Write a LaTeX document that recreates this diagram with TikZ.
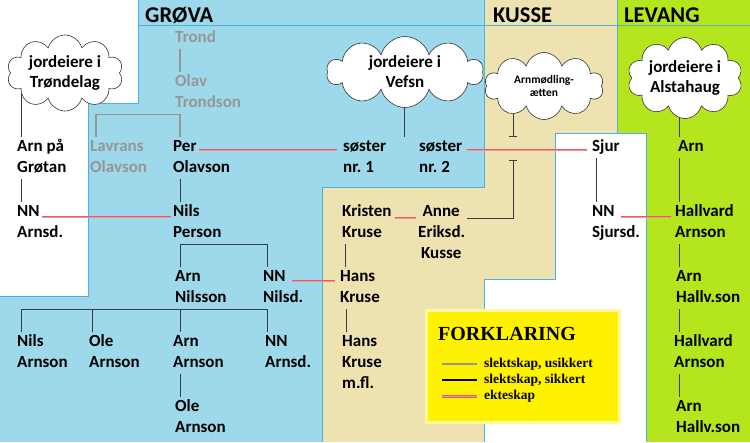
\documentclass[tikz,border=0pt]{standalone}
\usepackage{fontspec}
\setmainfont{Carlito}
\newfontfamily\legfont{Liberation Serif}
\usetikzlibrary{shapes.symbols,arrows.meta}
\definecolor{grovablue}{RGB}{157,217,234}
\definecolor{kussetan}{RGB}{238,226,177}
\definecolor{levanggreen}{RGB}{181,230,29}
\definecolor{edgeblue}{RGB}{72,178,224}
\definecolor{kinline}{RGB}{60,60,60}
\definecolor{unsureline}{RGB}{150,150,150}
\definecolor{marryred}{RGB}{228,92,100}
\definecolor{marrypink}{RGB}{238,150,155}
\definecolor{legyellow}{RGB}{255,242,0}
\definecolor{legedge}{RGB}{255,249,160}

\begin{document}
\begin{tikzpicture}[x=1pt,y=-1pt,
	person/.style={anchor=north west,yshift=-2pt,inner sep=0pt,text width=80pt,align=flush left,font=\bfseries\fontsize{17}{21}\selectfont\frenchspacing,execute at begin node=\strut,execute at end node=\strut},
	grayperson/.style={person,text=unsureline},
	header/.style={anchor=base west,inner sep=0pt,font=\bfseries\fontsize{22.5}{26}\selectfont},
	cloudbox/.style={cloud,cloud puffs=10,cloud ignores aspect,draw=black!80,fill=white,line width=0.6pt,align=center,inner sep=0pt,font=\bfseries\fontsize{17}{20}\selectfont},
	legtext/.style={anchor=base west,inner sep=0pt,font=\legfont\bfseries\fontsize{13.5}{16}\selectfont},
	kin/.style={draw=kinline,line width=0.9pt},
	unsure/.style={draw=unsureline,line width=1.2pt},
	married/.style={draw=marryred,double=marrypink,double distance=1pt,line width=0.9pt}]
		\useasboundingbox (0,0) rectangle (750,442);
		% gardene
		\fill[grovablue] (138,0) -- (484,0) -- (484,187) -- (322,187) -- (322,442) -- (0,442) -- (0,296) -- (88,296) -- (88,103) -- (138,103) -- cycle;
		\fill[kussetan] (484,0) -- (617,0) -- (617,133) -- (555,133) -- (555,279) -- (484,279) -- (484,442) -- (322,442) -- (322,187) -- (484,187) -- cycle;
		\fill[levanggreen] (617,0) -- (750,0) -- (750,442) -- (646,442) -- (646,133) -- (617,133) -- cycle;
		\draw[edgeblue] (138,0) -- (138,103) -- (88,103) -- (88,296) -- (0,296);
		\draw[edgeblue] (484,0) -- (484,187) -- (322,187) -- (322,442);
		\draw[edgeblue] (617,0) -- (617,133) -- (555,133) -- (555,279) -- (484,279) -- (484,442);
		\draw[edgeblue] (617,133) -- (646,133) -- (646,442);
		\draw[edgeblue] (138,25) -- (750,25);
		\node[header] (grova) at (145,22) {GRØVA};
		\node[header] (kusse) at (493,22) {KUSSE};
		\node[header] (levang) at (624,22) {LEVANG};
		% personer
		\node[grayperson] (trond) at (175,26) {Trond};
		\node[grayperson] (olav) at (175,70) {Olav\\Trondson};
		\node[grayperson] (lavrans) at (90,135) {Lavrans\\Olavson};
		\node[person] (arnpaa) at (17,135) {Arn på\\Grøtan};
		\node[person] (per) at (173,135) {Per\\Olavson};
		\node[person] (sos1) at (343,135) {søster\\nr. 1};
		\node[person] (sos2) at (419,135) {søster\\nr. 2};
		\node[person] (sjur) at (592,135) {Sjur};
		\node[person] (arnL) at (678,135) {Arn};
		\node[person] (nnA) at (17,200) {NN\\Arnsd.};
		\node[person] (nils) at (173,200) {Nils\\Person};
		\node[person] (kristen) at (342,200) {Kristen\\Kruse};
		\node[person,text width=46pt,align=flush center] (anne) at (418,200) {Anne\\Eriksd.\\Kusse};
		\node[person] (nnS) at (592,200) {NN\\Sjursd.};
		\node[person] (hallvA) at (675,200) {Hallvard\\Arnson};
		\node[person] (arnN) at (175,265) {Arn\\Nilsson};
		\node[person] (nnN) at (263,265) {NN\\Nilsd.};
		\node[person] (hansA) at (340,265) {Hans\\Kruse};
		\node[person] (arnHA) at (676,265) {Arn\\Hallv.son};
		\node[person] (nilsA) at (17,330) {Nils\\Arnson};
		\node[person] (oleA) at (89,330) {Ole\\Arnson};
		\node[person] (arnA) at (173,330) {Arn\\Arnson};
		\node[person] (nnAA) at (265,330) {NN\\Arnsd.};
		\node[person] (hansB) at (342,330) {Hans\\Kruse\\m.fl.};
		\node[person] (hallvB) at (674,330) {Hallvard\\Arnson};
		\node[person] (oleB) at (175,395) {Ole\\Arnson};
		\node[person] (arnHB) at (676,395) {Arn\\Hallv.son};
		% slektskap, usikkert
		\draw[unsure] ([xshift=5pt]trond.south west) -- ([xshift=5pt]olav.north west);
		\draw[unsure] ([xshift=7pt]per.north west) |- ([xshift=5pt]olav.south west) -| ([xshift=6pt]lavrans.north west);
		% slektskap, sikkert
		\coordinate (levline) at (679,0);
		\draw[kin] ([xshift=4pt]arnpaa.south west) -- ([xshift=4pt]nnA.north west);
		\draw[kin] ([xshift=7pt]per.south west) -- ([xshift=7pt]nils.north west);
		\draw[kin] ([xshift=5pt]arnN.north west) |- ([xshift=4pt]nnN.north west |- nils.south) -- ([xshift=4pt]nnN.north west);
		\draw[kin] ([xshift=4pt]nilsA.north west) |- ([xshift=2pt]nnAA.north west |- arnN.south) -- ([xshift=2pt]nnAA.north west);
		\draw[kin] ([xshift=3pt]oleA.north west) -- ([xshift=3pt]oleA.north west |- arnN.south);
		\draw[kin] ([xshift=7pt]arnA.north west) -- ([xshift=7pt]arnA.north west |- arnN.south);
		\draw[kin] ([xshift=7pt]arnA.south west) -- ([xshift=7pt]arnA.south west |- oleB.north);
		\draw[kin] ([xshift=3pt]kristen.south west) -- ([xshift=3pt]kristen.south west |- hansA.north);
		\draw[kin] ([xshift=6pt]hansA.south west) -- ([xshift=6pt]hansA.south west |- hansB.north);
		\draw[kin] ([xshift=4pt]sjur.south west) -- ([xshift=4pt]sjur.south west |- nnS.north);
		\foreach \a/\b in {arnL/hallvA,hallvA/arnHA,arnHA/hallvB,hallvB/arnHB}
			\draw[kin] (\a.south -| levline) -- (\b.north -| levline);
		% ekteskap
		\draw[married] ([shift={(26,13)}]per.north west) -- ([shift={(-6,13)}]sos1.north west);
		\draw[married] ([shift={(48,13)}]sos2.north west) -- ([shift={(-5,13)}]sjur.north west);
		\draw[married] ([shift={(25,15)}]nnA.north west) -- ([shift={(-2,15)}]nils.north west);
		\draw[married] ([shift={(53,16)}]kristen.north west) -- ([shift={(-2,16)}]anne.north west);
		\draw[married] ([shift={(29,14)}]nnN.north west) -- ([shift={(-5,14)}]hansA.north west);
		\draw[married] ([shift={(29,15)}]nnS.north west) -- ([shift={(-4,15)}]hallvA.north west);
		% skyene
		\coordinate (cT) at (65,73);
		\coordinate (cV) at (405,72);
		\coordinate (cA) at (544,86);
		\coordinate (cL) at (685,78);
		\coordinate (vefsnend) at (404,137);
		\coordinate (armtop) at (513,137);
		\coordinate (armbot) at (513,160);
		\draw[kin] ([xshift=4pt]arnpaa.north west) -- ([xshift=4pt]arnpaa.north west |- cT);
		\draw[kin] (vefsnend |- cV) -- (vefsnend);
		\draw[kin,-{Bar[width=8pt]}] (armtop |- cA) -- (armtop);
		\draw[kin,{Bar[width=8pt]}-] (armbot) |- ([shift={(49,16)}]anne.north west);
		\draw[kin] (arnL.north -| levline) -- (levline |- cL);
		\node[cloudbox,minimum width=116pt,minimum height=76pt] (trondelag) at (cT) {jordeiere i\\Trøndelag};
		\node[cloudbox,minimum width=156pt,minimum height=71pt] (vefsn) at (cV) {jordeiere i\\Vefsn};
		\node[cloudbox,minimum width=119pt,minimum height=67pt,font=\bfseries\fontsize{11.5}{12.5}\selectfont] (arnmodling) at (cA) {Arnmødling-\\ætten};
		\node[cloudbox,minimum width=115pt,minimum height=81pt] (alstahaug) at (cL) {jordeiere i\\Alstahaug};
		% forklaring
		\node[draw=legedge,line width=2.5pt,fill=legyellow,anchor=north west,minimum width=193pt,minimum height=112pt,inner sep=0pt] (legend) at (425,309) {};
		\node[anchor=base west,inner sep=0pt,font=\legfont\bfseries\fontsize{20}{24}\selectfont] (legtitle) at (438,340) {FORKLARING};
		\node[legtext] (legunsure) at (484,367) {slektskap, usikkert};
		\node[legtext] (legsure) at (484,383) {slektskap, sikkert};
		\node[legtext] (legmarried) at (484,399) {ekteskap};
		\draw[unsure,line width=2.5pt] ([shift={(-42,-3)}]legunsure.base west) -- ([shift={(-7,-3)}]legunsure.base west);
		\draw[draw=black,line width=2.5pt] ([shift={(-42,-3)}]legsure.base west) -- ([shift={(-7,-3)}]legsure.base west);
		\draw[married,line width=1pt,double distance=1pt] ([shift={(-42,-3)}]legmarried.base west) -- ([shift={(-7,-3)}]legmarried.base west);
	\end{tikzpicture}
\end{document}
